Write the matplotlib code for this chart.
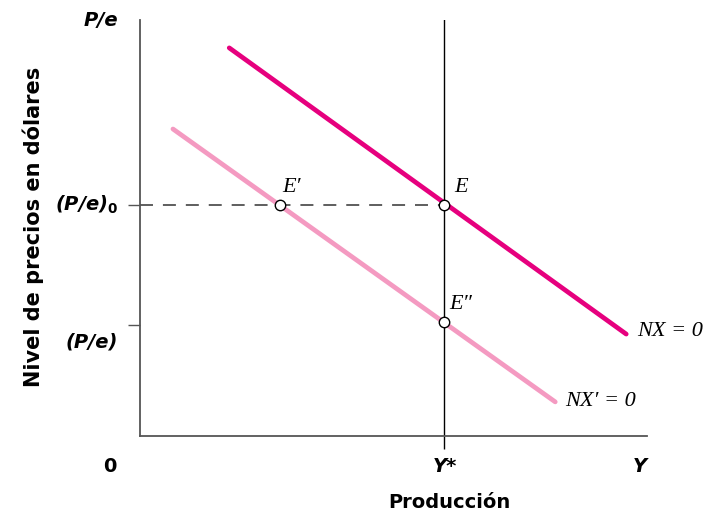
import matplotlib.pyplot as plt

# curve end points (output, price level) in chart units
nx_x = [1.76, 9.59]
nx_y = [9.33, 2.45]
nx2_x = [0.65, 8.19]
nx2_y = [7.38, 0.82]

y_star = 6.0
pe0 = 5.55
pe1 = 2.67

# equilibrium points
pt_names = ["E", "E\u2032", "E\u2033"]
pt_x = [6.0, 2.76, 6.0]
pt_y = [5.55, 5.55, 2.74]

dark = '#E6007E'
light = '#F49AC1'
axc = '#555555'

fig = plt.figure(figsize=(7.04, 5.14), dpi=100)
ax = fig.add_axes([140 / 704, 78 / 514, 507 / 704, 416 / 514])
ax.set_xlim(0, 10)
ax.set_ylim(0, 10)

for s in ['top', 'right']:
    ax.spines[s].set_visible(False)
for s in ['left', 'bottom']:
    ax.spines[s].set_color(axc)
    ax.spines[s].set_linewidth(1.3)

# ticks
ax.set_xticks([y_star])
ax.set_xticklabels([])
ax.tick_params(axis='x', length=9, width=1, color='black', direction='out')
ax.set_yticks([pe1, pe0])
ax.set_yticklabels([])
ax.tick_params(axis='y', length=9, width=1, color=axc, direction='out')

# full employment line
ax.axvline(y_star, color='black', lw=1.0, zorder=2)
# dashed line to E
ax.plot([0, y_star], [pe0, pe0], color='#333333', lw=1.1, dashes=(8.5, 6.5), zorder=2)

ax.plot(nx_x, nx_y, color=dark, lw=3.4, solid_capstyle='round', zorder=3)
ax.plot(nx2_x, nx2_y, color=light, lw=3.4, solid_capstyle='round', zorder=3)

ax.plot(pt_x, pt_y, 'o', ms=7.5, mfc='white', mec='black', mew=1.0, zorder=5)

serif = dict(family='Liberation Serif', style='italic', fontsize=16)
ax.text(pt_x[0] + 0.2, pt_y[0] + 0.2, pt_names[0], ha='left', va='bottom', **serif)
ax.text(pt_x[1] + 0.05, pt_y[1] + 0.2, pt_names[1], ha='left', va='bottom', **serif)
ax.text(pt_x[2] + 0.1, pt_y[2] + 0.2, pt_names[2], ha='left', va='bottom', **serif)
ax.text(nx_x[1] + 0.22, nx_y[1] + 0.05, "NX = 0", ha='left', va='center', **serif)
ax.text(nx2_x[1] + 0.2, nx2_y[1], "NX\u2032 = 0", ha='left', va='center', **serif)

bold = dict(family='DejaVu Sans', weight='bold', style='italic', fontsize=14)
fig.text(118 / 704, 1 - 21 / 514, "P/e", ha='right', va='center', **bold)
fig.text(118 / 704, 1 - 205 / 514, "(P/e)$_\\mathbf{0}$", ha='right', va='center', **bold)
fig.text(118 / 704, 1 - 342 / 514, "(P/e)", ha='right', va='center', **bold)

fig.text(110 / 704, 1 - 466 / 514, "0", ha='center', va='center', family='DejaVu Sans',
         weight='bold', fontsize=14)
fig.text(445 / 704, 1 - 466 / 514, "Y*", ha='center', va='center', **bold)
fig.text(640 / 704, 1 - 466 / 514, "Y", ha='center', va='center', **bold)

fig.text(449 / 704, 1 - 503 / 514, "Producción", ha='center', va='center',
         family='DejaVu Sans', weight='bold', fontsize=14)
fig.text(33 / 704, 1 - 227 / 514, "Nivel de precios en dólares", ha='center', va='center',
         rotation=90, family='DejaVu Sans', weight='bold', fontsize=15)

fig.savefig('out.png', dpi=100)
